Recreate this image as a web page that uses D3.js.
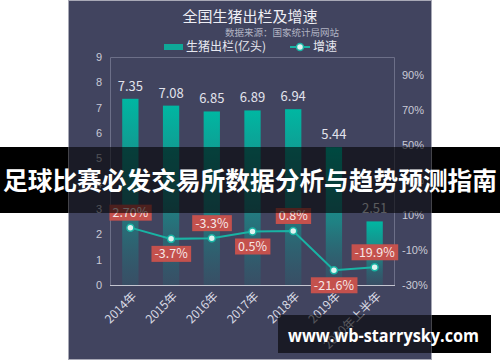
<!DOCTYPE html>
<html>
<head>
<meta charset="utf-8">
<script src="https://cdn.jsdelivr.net/npm/d3@7"></script>
<style>
  body { margin: 0; background: #fff; }
  svg { display: block; font-family: "Noto Sans CJK SC", "Noto Sans", sans-serif; }
</style>
</head>
<body>
<div id="chart"></div>
<script>
// data
var categories = ["2014年", "2015年", "2016年", "2017年", "2018年", "2019年", "2020年上半年"];
var output = [7.35, 7.08, 6.85, 6.89, 6.94, 5.44, 2.51];          // 生猪出栏 (亿头)
var growth = [2.7, -3.7, -3.3, 0.5, 0.8, -21.6, -19.9];           // 增速 (%)
var growthLabels = ["2.70%", "-3.7%", "-3.3%", "0.5%", "0.8%", "-21.6%", "-19.9%"];
var leftTicks = [0, 1, 2, 3, 4, 5, 6, 7, 8, 9];
var rightTicks = [-30, -10, 10, 30, 50, 70, 90];

var width = 500, height = 362;
var bg = {x: 68, y: 0, w: 364, h: 360};
var plot = {left: 110, right: 395, top: 57, bottom: 285};

var svg = d3.select("#chart").append("svg")
    .attr("width", width)
    .attr("height", height);

var defs = svg.append("defs");
var grad = defs.append("linearGradient")
    .attr("id", "barGrad")
    .attr("x1", 0).attr("y1", 0).attr("x2", 0).attr("y2", 1);
grad.append("stop").attr("offset", "0%").attr("stop-color", "#00b7a2").attr("stop-opacity", 1);
grad.append("stop").attr("offset", "55%").attr("stop-color", "#15958f").attr("stop-opacity", 0.75);
grad.append("stop").attr("offset", "100%").attr("stop-color", "#1f6f78").attr("stop-opacity", 0.25);

// chart panel
svg.append("rect")
    .attr("x", bg.x + 0.5).attr("y", 0.5)
    .attr("width", bg.w - 1).attr("height", bg.h - 1)
    .attr("fill", "#41445f")
    .attr("stroke", "#a8a9b6");

// scales
var x = d3.scaleBand()
    .domain(categories)
    .range([plot.left, plot.right])
    .paddingInner(0.6)
    .paddingOuter(0.3);
var yL = d3.scaleLinear().domain([0, 9]).range([plot.bottom, plot.top]);
var yR = d3.scaleLinear().domain([-30, 100]).range([plot.bottom, plot.top]);
var cx = function(d, i) { return x(categories[i]) + x.bandwidth() / 2; };

// plot frame
svg.append("path")
    .attr("d", "M" + (plot.left + 0.5) + "," + plot.bottom + "V" + (plot.top + 0.5) +
               "H" + (plot.right - 0.5) + "V" + plot.bottom)
    .attr("fill", "none")
    .attr("stroke", "#6c6f88");

// left axis
var axL = svg.append("g")
    .attr("transform", "translate(" + plot.left + ",0)")
    .call(d3.axisLeft(yL).tickValues(leftTicks).tickSize(0).tickPadding(8));
axL.select(".domain").remove();
axL.selectAll("text").attr("fill", "#c9cad6").style("font-size", "11px");

// right axis
var axR = svg.append("g")
    .attr("transform", "translate(" + plot.right + ",0)")
    .call(d3.axisRight(yR).tickValues(rightTicks).tickSize(0).tickPadding(7)
        .tickFormat(function(d) { return d + "%"; }));
axR.select(".domain").remove();
axR.selectAll("text").attr("fill", "#c9cad6").style("font-size", "11px");

// bars
svg.selectAll(".bar")
    .data(output)
    .enter().append("rect")
    .attr("class", "bar")
    .attr("x", function(d, i) { return x(categories[i]); })
    .attr("y", function(d) { return yL(d); })
    .attr("width", x.bandwidth())
    .attr("height", function(d) { return yL(0) - yL(d); })
    .attr("fill", "url(#barGrad)");

// bar values
svg.selectAll(".barval")
    .data(output)
    .enter().append("text")
    .attr("x", cx)
    .attr("y", function(d) { return yL(d) - 8; })
    .attr("text-anchor", "middle")
    .attr("fill", "#e2e3ec")
    .style("font-size", "13px")
    .text(function(d) { return d.toFixed(2); });

// x axis line
svg.append("line")
    .attr("x1", plot.left).attr("x2", plot.right)
    .attr("y1", plot.bottom + 0.5).attr("y2", plot.bottom + 0.5)
    .attr("stroke", "#c4c5d0");

// x labels
svg.selectAll(".xlab")
    .data(categories)
    .enter().append("text")
    .attr("transform", function(d, i) {
        return "translate(" + (cx(d, i) + 4) + "," + (plot.bottom + 9) + ") rotate(-45)";
    })
    .attr("text-anchor", "end")
    .attr("dy", "0.35em")
    .attr("fill", "#d9dae4")
    .style("font-size", "12px")
    .text(function(d) { return d; });

// growth line
var line = d3.line()
    .x(cx)
    .y(function(d) { return yR(d); });
svg.append("path")
    .datum(growth)
    .attr("d", line)
    .attr("fill", "none")
    .attr("stroke", "#19b3a4")
    .attr("stroke-width", 2);

svg.selectAll(".pt")
    .data(growth)
    .enter().append("circle")
    .attr("cx", cx)
    .attr("cy", function(d) { return yR(d); })
    .attr("r", 3.5)
    .attr("fill", "#dff3f0")
    .attr("stroke", "#19b3a4")
    .attr("stroke-width", 1.5);

// growth labels, alternating above / below
var lab = svg.selectAll(".glab")
    .data(growth)
    .enter().append("g")
    .attr("transform", function(d, i) {
        var off = i % 2 === 0 ? -15 : 15;
        return "translate(" + cx(d, i) + "," + (yR(d) + off) + ")";
    });
lab.append("text")
    .attr("text-anchor", "middle")
    .attr("dy", "0.36em")
    .attr("fill", "#f6e6e6")
    .style("font-size", "12.5px")
    .text(function(d, i) { return growthLabels[i]; })
    .each(function() {
        var b = this.getBBox();
        d3.select(this.parentNode).insert("rect", "text")
            .attr("x", b.x - 3).attr("y", -8)
            .attr("width", b.width + 6).attr("height", 16)
            .attr("fill", "#c4514d");
    });

// title, source, legend
svg.append("text")
    .attr("x", 250).attr("y", 17).attr("dy", "0.35em")
    .attr("text-anchor", "middle")
    .attr("fill", "#eeeef4")
    .style("font-size", "15px")
    .text("全国生猪出栏及增速");
svg.append("text")
    .attr("x", 339).attr("y", 33).attr("dy", "0.35em")
    .attr("text-anchor", "end")
    .attr("fill", "#b2b4c4")
    .style("font-size", "9.5px")
    .text("数据来源：国家统计局网站");

var leg = svg.append("g");
leg.append("rect")
    .attr("x", 164).attr("y", 44).attr("width", 19).attr("height", 6)
    .attr("fill", "#0fa898");
leg.append("text")
    .attr("x", 186).attr("y", 47).attr("dy", "0.35em")
    .attr("fill", "#e6e7ef")
    .style("font-size", "12px")
    .text("生猪出栏(亿头)");
leg.append("line")
    .attr("x1", 290).attr("x2", 310).attr("y1", 47).attr("y2", 47)
    .attr("stroke", "#19b3a4").attr("stroke-width", 2);
leg.append("circle")
    .attr("cx", 300).attr("cy", 47).attr("r", 3.5)
    .attr("fill", "#dff3f0").attr("stroke", "#19b3a4").attr("stroke-width", 1.5);
leg.append("text")
    .attr("x", 313).attr("y", 47).attr("dy", "0.35em")
    .attr("fill", "#e6e7ef")
    .style("font-size", "12px")
    .text("增速");

// overlay bands: opaque black off the panel, translucent over it
function band(y0, y1, x0, x1) {
    svg.append("rect").attr("x", 0).attr("y", y0).attr("width", bg.x).attr("height", y1 - y0)
        .attr("fill", "#000");
    svg.append("rect").attr("x", bg.x).attr("y", y0).attr("width", bg.w).attr("height", y1 - y0)
        .attr("fill", "#000").attr("opacity", 0.6);
    svg.append("rect").attr("x", bg.x + bg.w).attr("y", y0).attr("width", x1 - bg.x - bg.w).attr("height", y1 - y0)
        .attr("fill", "#000");
}
band(147, 213, 0, 500);
svg.append("text")
    .attr("x", 3).attr("y", 181).attr("dy", "0.35em")
    .attr("textLength", 494)
    .attr("lengthAdjust", "spacingAndGlyphs")
    .attr("fill", "#fff")
    .style("font-size", "25px")
    .style("font-weight", "bold")
    .text("足球比赛必发交易所数据分析与趋势预测指南");

// watermark
svg.append("rect").attr("x", 278).attr("y", 315).attr("width", bg.x + bg.w - 278).attr("height", 38)
    .attr("fill", "#000").attr("opacity", 0.6);
svg.append("rect").attr("x", bg.x + bg.w).attr("y", 315).attr("width", 491 - bg.x - bg.w).attr("height", 38)
    .attr("fill", "#000");
svg.append("text")
    .attr("x", 288).attr("y", 336).attr("dy", "0.35em")
    .attr("textLength", 191)
    .attr("lengthAdjust", "spacingAndGlyphs")
    .attr("fill", "#fff")
    .style("font-size", "18px")
    .style("font-weight", "bold")
    .style("font-family", "'Open Sans', 'Noto Sans', sans-serif")
    .text("www.wb-starrysky.com");
</script>
</body>
</html>
